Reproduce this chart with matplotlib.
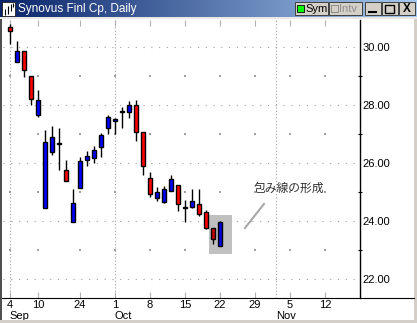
import matplotlib
matplotlib.use("Agg")
import matplotlib.pyplot as plt
import matplotlib.transforms as mtransforms
from matplotlib.colors import LinearSegmentedColormap
from matplotlib.patches import Rectangle
import numpy as np
import pandas as pd

plt.rcParams['font.family'] = ['Liberation Sans', 'Noto Sans CJK JP', 'DejaVu Sans']

# daily bars, Sep 4 - Oct 22 2001 (market closed Sep 11-14)
dates = ["2001-09-04", "2001-09-05", "2001-09-06", "2001-09-07", "2001-09-10",
         "2001-09-17", "2001-09-18", "2001-09-19", "2001-09-20", "2001-09-21",
         "2001-09-24", "2001-09-25", "2001-09-26", "2001-09-27", "2001-09-28",
         "2001-10-01", "2001-10-02", "2001-10-03", "2001-10-04", "2001-10-05",
         "2001-10-08", "2001-10-09", "2001-10-10", "2001-10-11", "2001-10-12",
         "2001-10-15", "2001-10-16", "2001-10-17", "2001-10-18", "2001-10-19",
         "2001-10-22"]
opens = [30.68, 29.47, 29.86, 28.99, 27.64, 24.46, 26.37, 26.65, 25.75, 23.98,
         25.13, 26.11, 26.18, 26.56, 27.22, 27.44, 27.77, 27.75, 28.00, 27.06,
         25.47, 24.78, 24.67, 25.02, 25.23, 24.44, 24.47, 24.58, 24.30, 23.75,
         23.14]
highs = [30.79, 30.21, 29.86, 28.99, 28.52, 27.14, 27.29, 27.21, 26.10, 25.10,
         26.20, 26.41, 26.59, 27.02, 27.67, 27.56, 27.94, 28.14, 28.17, 27.06,
         25.68, 25.18, 25.21, 25.59, 25.23, 24.72, 25.09, 25.09, 24.38, 23.75,
         24.01]
lows = [30.10, 29.47, 28.96, 27.99, 27.59, 24.46, 26.28, 25.76, 25.37, 23.98,
        25.13, 25.91, 26.01, 26.22, 26.99, 27.00, 27.20, 27.56, 26.77, 25.58,
        24.82, 24.70, 24.63, 25.02, 24.33, 23.98, 24.44, 24.17, 23.71, 23.21,
        23.14]
closes = [30.54, 29.86, 29.20, 28.20, 28.16, 26.71, 26.90, 26.65, 25.37, 24.61,
          26.06, 26.24, 26.45, 26.97, 27.58, 27.52, 27.77, 28.00, 27.06, 25.90,
          24.93, 24.99, 25.10, 25.44, 24.59, 24.44, 24.70, 24.24, 23.75, 23.37,
          23.98]

title = "Synovus Finl Cp, Daily"
note = "包み線の形成"
price_ticks = [22, 24, 26, 28, 30]
minor_ticks = [23, 25, 27, 29]

W, H = 417, 323
fig = plt.figure(figsize=(W / 100, H / 100), dpi=100)
fig.patch.set_facecolor('white')


def px_box(x0, y0, x1, y1):
    return [x0 / W, 1 - y1 / H, (x1 - x0) / W, (y1 - y0) / H]


ax = fig.add_axes(px_box(3, 19.5, 360, 298))
ax.patch.set_visible(False)

# trading calendar incl. empty future days on the right
days = pd.to_datetime(dates)
future = pd.bdate_range(days[-1] + pd.Timedelta(days=1), periods=22)
cal = days.append(future)
xmax = 50
wk = cal.isocalendar().week.values
weekly = []
for i in range(len(cal)):
    if i >= xmax - 1:
        break
    if i == 0 or wk[i] != wk[i - 1]:
        if not weekly or i - weekly[-1] >= 3:
            weekly.append(i)
month_starts = [i for i in range(len(cal)) if i < xmax and (i == 0 or cal[i].month != cal[i - 1].month)]

x = np.arange(len(dates))
o = np.array(opens)
h = np.array(highs)
l = np.array(lows)
c = np.array(closes)

# highlighted engulfing pair
hl = [len(dates) - 2, len(dates) - 1]
ax.add_patch(Rectangle((hl[0] - 0.57, 22.85), hl[1] - hl[0] + 2.24, 1.36,
                       facecolor='#C0C0C0', edgecolor='none', zorder=1))

colors = []
for i in range(len(x)):
    if i in hl:
        colors.append('#0000DD' if c[i] >= o[i] else '#C00000')
    else:
        colors.append('#0000FF' if c[i] >= o[i] else '#FF0000')

ax.vlines(x, l, h, color='black', lw=1, zorder=2)
body_h = np.maximum(np.abs(c - o), 0.035)
ax.bar(x, body_h, bottom=np.minimum(o, c), width=0.62, color=colors,
       edgecolor='black', lw=1, zorder=3)

# grid
for v in price_ticks:
    ax.axhline(v, color='#A0A0A0', lw=0.8, ls=(0, (1, 6)), zorder=0)
for i in month_starts:
    ax.axvline(i, color='#A0A0A0', lw=0.8, ls=(0, (1, 2)), zorder=0)
gx, gy = np.meshgrid(weekly, minor_ticks)
ax.scatter(gx.ravel(), gy.ravel(), s=0.6, marker='s', color='#A0A0A0', lw=0, zorder=0)

# annotation
ax.plot([33.57, 36.29], [23.76, 24.59], color='#A8A8A8', lw=1.5, zorder=2)
ax.text(34.86, 25.14, note, fontsize=8.5, color='#303030', va='center', ha='left',
        family=['Noto Sans CJK JP', 'DejaVu Sans'])

ax.set_xlim(-1, xmax)
ax.set_ylim(21.345, 30.95)

for s in ['left', 'top', 'bottom']:
    ax.spines[s].set_visible(False)
ax.spines['right'].set_color('black')
ax.spines['right'].set_linewidth(1)

ax.yaxis.tick_right()
ax.set_yticks(price_ticks, labels=[f"{v:.2f}" for v in price_ticks])
ax.set_yticks(minor_ticks, minor=True)
ax.tick_params(axis='y', which='major', length=0, pad=1.5, labelsize=8, labelcolor='black')
ax.tick_params(axis='y', which='minor', length=3, direction='inout', color='black', width=0.8)

ax.set_xticks(weekly, labels=[str(cal[i].day) for i in weekly])
ax.tick_params(axis='x', length=4, direction='in', color='#B0B0B0', top=True,
               labelsize=8, pad=1.5)

blend = mtransforms.blended_transform_factory(ax.transData, ax.transAxes)
for i in month_starts:
    ax.text(i - 0.05, -0.045, cal[i].strftime('%b'), transform=blend, fontsize=8,
            ha='left', va='top')

# window title bar
tax = fig.add_axes(px_box(0, 0, W, 17))
grad = np.linspace(0, 1, 256).reshape(1, -1)
cmap = LinearSegmentedColormap.from_list('tb', ['#0A246A', '#A6CAF0'])
tax.imshow(grad, aspect='auto', cmap=cmap, extent=(0, W, 17, 0))
tax.set_xlim(0, W)
tax.set_ylim(17, 0)
tax.axis('off')
tax.add_patch(Rectangle((2, 1.5), 13, 14, facecolor='white', edgecolor='#202020', lw=0.6))
tax.vlines([5, 8, 11, 13], [9, 6, 4, 3], [15, 14, 11, 7], color='black', lw=0.8)
tax.text(18, 8.8, title, color='white', fontsize=8.5, va='center', ha='left')


def button(x0, x1):
    tax.add_patch(Rectangle((x0, 2), x1 - x0, 13, facecolor='#D4D0C8',
                            edgecolor='#404040', lw=0.7))


button(295, 328)
tax.add_patch(Rectangle((297, 5), 7, 7, facecolor='#00FF00', edgecolor='black', lw=0.6))
tax.text(305, 9, "Sym", fontsize=8, va='center', ha='left', color='black')
button(329, 362)
tax.add_patch(Rectangle((331, 5), 7, 7, facecolor='#D4D0C8', edgecolor='#808080', lw=0.6))
tax.text(339, 9, "Intv", fontsize=8, va='center', ha='left', color='#909090')
button(365, 381)
tax.plot([369, 376], [12, 12], color='black', lw=1.5)
button(382, 398)
tax.add_patch(Rectangle((385.5, 4.5), 9, 8, facecolor='none', edgecolor='black', lw=1))
button(399, 415)
tax.text(407, 9, "X", fontsize=8.5, va='center', ha='center', color='black', weight='bold')

# window frame
oax = fig.add_axes([0, 0, 1, 1])
oax.set_xlim(0, W)
oax.set_ylim(H, 0)
oax.axis('off')
oax.patch.set_visible(False)
oax.add_patch(Rectangle((0, 17), W, 2, facecolor='#E8E8E8', edgecolor='none'))
oax.add_patch(Rectangle((0, 19), 2, H - 19, facecolor='#505050', edgecolor='none'))
oax.add_patch(Rectangle((414, 19), 3, H - 19, facecolor='#D4D0C8', edgecolor='none'))
oax.add_patch(Rectangle((0, 320), W, 3, facecolor='#D4D0C8', edgecolor='none'))
oax.plot([2, 414], [298, 298], color='black', lw=0.8)

fig.savefig('out.png', dpi=100)
